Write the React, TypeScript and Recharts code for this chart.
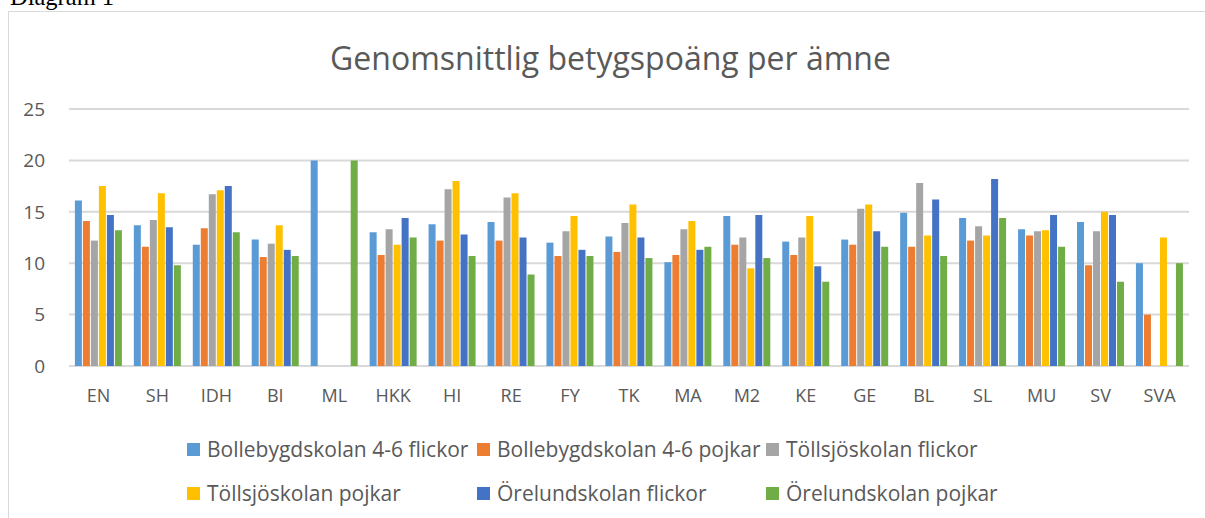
import { BarChart, Bar, XAxis, YAxis, CartesianGrid, Legend } from 'recharts';

const subjects = ['EN', 'SH', 'IDH', 'BI', 'ML', 'HKK', 'HI', 'RE', 'FY', 'TK', 'MA', 'M2', 'KE', 'GE', 'BL', 'SL', 'MU', 'SV', 'SVA'];

// null = no value for that school/subject
const bollebygdFlickor = [16.1, 13.7, 11.8, 12.3, 20, 13.0, 13.8, 14.0, 12.0, 12.6, 10.1, 14.6, 12.1, 12.3, 14.9, 14.4, 13.3, 14.0, 10.0];
const bollebygdPojkar = [14.1, 11.6, 13.4, 10.6, null, 10.8, 12.2, 12.2, 10.7, 11.1, 10.8, 11.8, 10.8, 11.8, 11.6, 12.2, 12.7, 9.8, 5.0];
const tollsjoFlickor = [12.2, 14.2, 16.7, 11.9, null, 13.3, 17.2, 16.4, 13.1, 13.9, 13.3, 12.5, 12.5, 15.3, 17.8, 13.6, 13.1, 13.1, null];
const tollsjoPojkar = [17.5, 16.8, 17.1, 13.7, null, 11.8, 18.0, 16.8, 14.6, 15.7, 14.1, 9.5, 14.6, 15.7, 12.7, 12.7, 13.2, 15.0, 12.5];
const orelundFlickor = [14.7, 13.5, 17.5, 11.3, null, 14.4, 12.8, 12.5, 11.3, 12.5, 11.3, 14.7, 9.7, 13.1, 16.2, 18.2, 14.7, 14.7, null];
const orelundPojkar = [13.2, 9.8, 13.0, 10.7, 20, 12.5, 10.7, 8.9, 10.7, 10.5, 11.6, 10.5, 8.2, 11.6, 10.7, 14.4, 11.6, 8.2, 10.0];

const seriesNames = [
  'Bollebygdskolan 4-6 flickor',
  'Bollebygdskolan 4-6 pojkar',
  'Töllsjöskolan flickor',
  'Töllsjöskolan pojkar',
  'Örelundskolan flickor',
  'Örelundskolan pojkar',
];
const seriesValues = [bollebygdFlickor, bollebygdPojkar, tollsjoFlickor, tollsjoPojkar, orelundFlickor, orelundPojkar];
const seriesColors = ['#5B9BD5', '#ED7D31', '#A5A5A5', '#FFC000', '#4472C4', '#70AD47'];
const yTicks = [0, 5, 10, 15, 20, 25];

const data = subjects.map((subject, i) => {
  const row: Record<string, string | number | null> = { subject };
  seriesNames.forEach((name, s) => {
    row[name] = seriesValues[s][i];
  });
  return row;
});

const font = '"Open Sans", sans-serif';
const textColor = '#595959';

const legendCols = [187, 477, 766];

function renderLegend() {
  return (
    <div style={{ position: 'relative', width: 1205, height: 80, fontFamily: font }}>
      {seriesNames.map((name, i) => (
        <div
          key={name}
          style={{
            position: 'absolute',
            left: legendCols[i % 3],
            top: Math.floor(i / 3) * 44,
            height: 26,
            display: 'flex',
            alignItems: 'center',
            whiteSpace: 'nowrap',
          }}
        >
          <span style={{ width: 13, height: 13, background: seriesColors[i], marginRight: 7 }} />
          <span style={{ fontSize: 21, color: textColor, lineHeight: '26px' }}>{name}</span>
        </div>
      ))}
    </div>
  );
}

export default function App() {
  return (
    <div style={{ position: 'absolute', left: 0, top: 0, width: 1205, height: 518, overflow: 'hidden', background: '#fff' }}>
      {/* page caption, cut off at the top like in the screenshot */}
      <div
        style={{
          position: 'absolute',
          left: 10,
          top: -15,
          fontFamily: '"Liberation Serif", serif',
          fontSize: 24.5,
          lineHeight: '24px',
          whiteSpace: 'nowrap',
        }}
      >
        Diagram 1
      </div>
      <div
        style={{
          position: 'absolute',
          left: 8,
          top: 11,
          width: 1300,
          height: 600,
          borderLeft: '1px solid #d9d9d9',
          borderTop: '1px solid #d9d9d9',
        }}
      />
      <div
        style={{
          position: 'absolute',
          left: 0,
          top: 42,
          width: 1221,
          textAlign: 'center',
          fontFamily: font,
          fontSize: 32,
          lineHeight: '32px',
          color: textColor,
          whiteSpace: 'nowrap',
        }}
      >
        Genomsnittlig betygspoäng per ämne
      </div>
      <div style={{ position: 'absolute', left: 0, top: 0 }}>
        <BarChart
          width={1205}
          height={518}
          data={data}
          margin={{ top: 109, right: 16, left: 29, bottom: 122 }}
          barCategoryGap="10%"
          barGap={1}
        >
          <CartesianGrid vertical={false} stroke="#d9d9d9" strokeWidth={2} />
          <XAxis
            dataKey="subject"
            height={30}
            axisLine={false}
            tickLine={false}
            tickSize={0}
            tickMargin={23}
            interval={0}
            tick={{ fill: textColor, fontSize: 18, fontFamily: font }}
          />
          <YAxis
            width={40}
            domain={[0, 25]}
            ticks={yTicks}
            axisLine={false}
            tickLine={false}
            tickSize={0}
            tickMargin={24}
            tick={{ fill: textColor, fontSize: 19, fontFamily: font }}
          />
          <Legend
            layout="horizontal"
            verticalAlign="middle"
            align="center"
            content={renderLegend}
            wrapperStyle={{ top: 436, left: 0, width: 1205 }}
          />
          {seriesNames.map((name, i) => (
            <Bar key={name} dataKey={name} fill={seriesColors[i]} isAnimationActive={false} />
          ))}
        </BarChart>
      </div>
    </div>
  );
}
